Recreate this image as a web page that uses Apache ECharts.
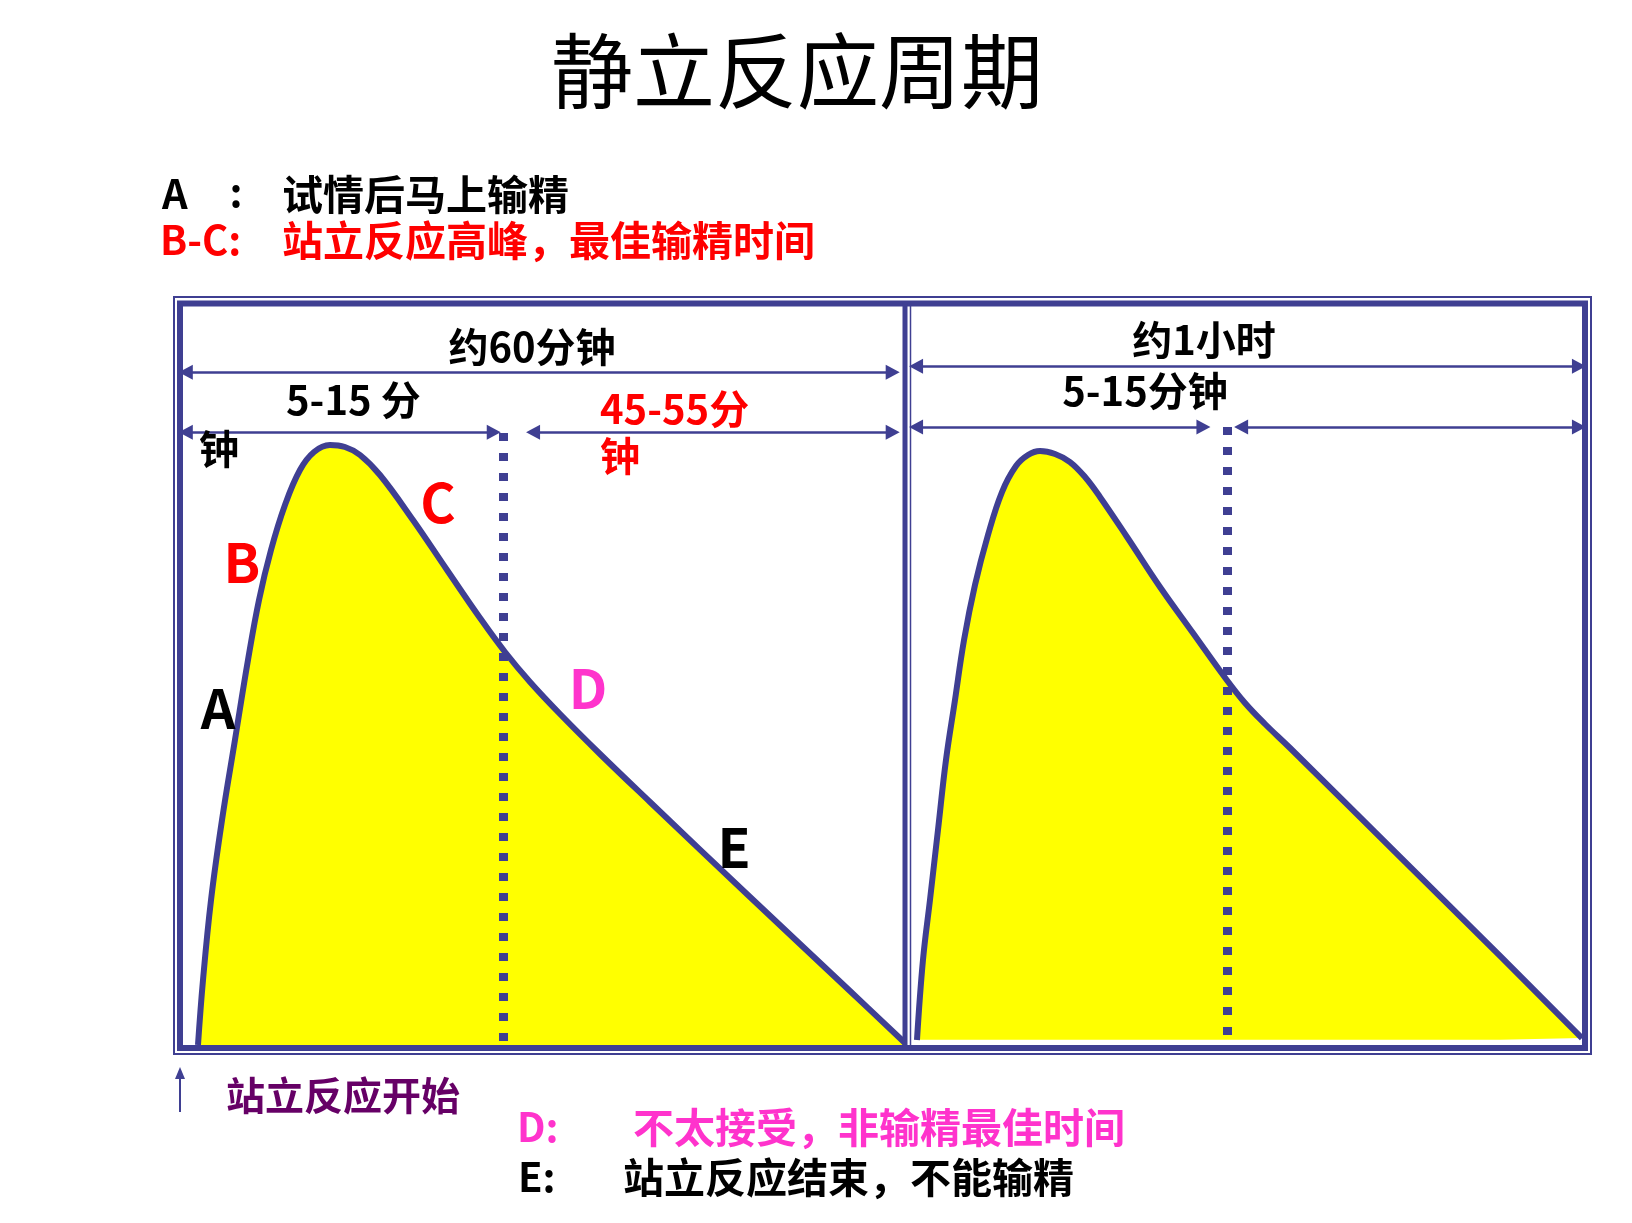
<!DOCTYPE html>
<html>
<head>
<meta charset="utf-8">
<script src="https://cdn.jsdelivr.net/npm/echarts@6/dist/echarts.min.js"></script>
<style>
html,body{margin:0;padding:0;background:#fff;}
#c{width:1632px;height:1223px;}
</style>
</head>
<body>
<div id="c"></div>
<script>
// ---- Data (abstract time units 0-100 per panel, intensity 0-100) ----
const curve1X = [2.47, 3.16, 4.26, 5.77, 7.55, 9.34, 10.85, 12.5, 14.42, 16.48, 18.41, 20.6, 22.66, 24.73, 27.47, 32.0, 36.68, 41.21, 44.64, 48.08, 52.2, 57.69, 64.56, 78.3, 92.03, 99.59];
const curve1Y = [0, 8.67, 19.33, 30.0, 40.67, 51.33, 59.33, 66.0, 72.0, 76.67, 79.07, 80.0, 79.73, 78.67, 76.0, 70.0, 63.33, 56.93, 52.4, 48.4, 44.13, 38.8, 32.4, 19.73, 7.2, 0.27];
const curve2X = [0.74, 1.63, 2.67, 3.86, 5.05, 6.39, 7.73, 9.36, 11.29, 13.37, 15.45, 17.24, 19.02, 21.25, 23.48, 25.71, 27.93, 31.95, 36.85, 41.75, 46.66, 49.48, 52.45, 56.17, 72.51, 87.37, 99.55];
const curve2Y = [0.67, 11.33, 19.33, 28.67, 38.0, 46.0, 54.0, 61.33, 68.0, 73.73, 77.2, 78.67, 79.2, 78.8, 77.73, 75.73, 73.07, 67.73, 61.07, 54.93, 48.8, 45.6, 42.8, 39.6, 25.07, 11.87, 0.93];
const dividerX = [44.4, 46.8];          // dotted "5-15 min" boundary per panel
const dividerTop = [81.6, 82.4];
const spanLevels1 = [89.7, 81.7];       // dimension arrow heights, panel 1
const spanLevels2 = [90.5, 82.4];       // dimension arrow heights, panel 2
const spans1 = [[0.8, 97.9], [0.8, 43.1], [48.5, 97.9]];
const spans2 = [[0.6, 99.1], [0.6, 43.3], [48.9, 99.1]];

const title = '静立反应周期';
const legendLines = [
  {k: 'A', sep: ':', t: '试情后马上输精', c: '#000000'},
  {k: 'B-C:', sep: '', t: '站立反应高峰，最佳输精时间', c: '#ff0000'}
];
const pointLabels = [
  {t: 'A', x: 218, y: 708, c: '#000000'},
  {t: 'B', x: 242, y: 562, c: '#ff0000'},
  {t: 'C', x: 438, y: 502, c: '#ff0000'},
  {t: 'D', x: 588, y: 688, c: '#ff33cc'},
  {t: 'E', x: 734, y: 847, c: '#000000'}
];

const NAVY = '#3f3f92';
const FONT = '"Noto Sans CJK SC", "Noto Sans", sans-serif';

function zip(xs, ys) { return xs.map((x, i) => [x, ys[i]]); }

function arrowLines(spans, levels) {
  const lv = [levels[0], levels[1], levels[1]];
  return spans.map((s, i) => [
    {coord: [s[0], lv[i]], symbol: 'triangle', symbolSize: [15, 14], lineStyle: {color: NAVY, width: 2.5, type: 'solid'}},
    {coord: [s[1], lv[i]], symbol: 'triangle', symbolSize: [15, 14]}
  ]);
}

function curveSeries(idx, data, divX, divTop, spans, levels, origin) {
  return {
    type: 'line',
    xAxisIndex: idx, yAxisIndex: idx,
    data: data,
    smooth: 0.4,
    symbol: 'none',
    clip: false,
    lineStyle: {color: NAVY, width: 6, join: 'round'},
    areaStyle: {color: '#ffff00', opacity: 1, origin: origin},
    silent: true,
    z: 2,
    markLine: {
      silent: true,
      animation: false,
      label: {show: false},
      emphasis: {disabled: true},
      symbol: ['none', 'none'],
      data: [
        [
          {coord: [divX, divTop], symbol: 'none', lineStyle: {color: NAVY, width: 9, type: [8, 12], cap: 'butt'}},
          {coord: [divX, 0], symbol: 'none'}
        ]
      ].concat(arrowLines(spans, levels))
    }
  };
}

const chart = echarts.init(document.getElementById('c'), null, {renderer: 'canvas'});

const graphics = [];
// frame
graphics.push({type: 'rect', z: 50, shape: {x: 174, y: 297, width: 1417, height: 757}, style: {fill: null, stroke: NAVY, lineWidth: 2}});
graphics.push({type: 'rect', z: 50, shape: {x: 180, y: 303.5, width: 1405, height: 744.5}, style: {fill: null, stroke: NAVY, lineWidth: 6}});
graphics.push({type: 'line', z: 50, shape: {x1: 905, y1: 303, x2: 905, y2: 1048}, style: {stroke: NAVY, lineWidth: 5}});
graphics.push({type: 'line', z: 50, shape: {x1: 910.5, y1: 303, x2: 910.5, y2: 1048}, style: {stroke: NAVY, lineWidth: 1.5}});
// start arrow
graphics.push({type: 'line', z: 50, shape: {x1: 180, y1: 1112, x2: 180, y2: 1076}, style: {stroke: NAVY, lineWidth: 2}});
graphics.push({type: 'polygon', z: 50, shape: {points: [[180, 1067], [175, 1079], [185, 1079]]}, style: {fill: NAVY}});

function txt(t, x, y, size, color, align, weight) {
  graphics.push({
    type: 'text', z: 100, x: x, y: y,
    style: {text: t, fill: color, font: (weight || 'bold') + ' ' + size + 'px ' + FONT, textAlign: align || 'left', textVerticalAlign: 'middle'}
  });
}

txt(title, 797, 71, 82, '#000000', 'center', 'normal');
txt(legendLines[0].k, 162, 194, 40, legendLines[0].c);
txt(legendLines[0].sep, 236, 192, 40, legendLines[0].c, 'center');
txt(legendLines[0].t, 282, 194, 41, legendLines[0].c);
txt(legendLines[1].k, 160, 240, 40, legendLines[1].c);
txt(legendLines[1].t, 282, 240, 41, legendLines[1].c);

txt('约60分钟', 532, 347, 40, '#000000', 'center');
txt('5-15 分', 286, 400, 40, '#000000');
txt('钟', 199, 449, 40, '#000000');
txt('45-55分', 600, 409, 40, '#ff0000');
txt('钟', 600, 456, 40, '#ff0000');
txt('约1小时', 1204, 340, 40, '#000000', 'center');
txt('5-15分钟', 1145, 391, 40, '#000000', 'center');

pointLabels.forEach(p => txt(p.t, p.x, p.y, 54, p.c, 'center'));

txt('站立反应开始', 226, 1095, 39, '#660066');
txt('D:', 517, 1127, 40, '#ff33cc');
txt('不太接受，非输精最佳时间', 633, 1127, 41, '#ff33cc');
txt('E:', 518, 1177, 40, '#000000');
txt('站立反应结束，不能输精', 623, 1177, 41, '#000000');

const axisCommon = {type: 'value', min: 0, max: 100, show: false, splitLine: {show: false}};

chart.setOption({
  animation: false,
  backgroundColor: '#ffffff',
  grid: [
    {left: 180, top: 295, width: 728, height: 750},
    {left: 912, top: 295, width: 673, height: 750}
  ],
  xAxis: [Object.assign({gridIndex: 0}, axisCommon), Object.assign({gridIndex: 1}, axisCommon)],
  yAxis: [Object.assign({gridIndex: 0}, axisCommon), Object.assign({gridIndex: 1}, axisCommon)],
  series: [
    curveSeries(0, zip(curve1X, curve1Y), dividerX[0], dividerTop[0], spans1, spanLevels1, 0),
    curveSeries(1, zip(curve2X, curve2Y), dividerX[1], dividerTop[1], spans2, spanLevels2, 0.7)
  ],
  graphic: graphics
});
</script>
</body>
</html>
